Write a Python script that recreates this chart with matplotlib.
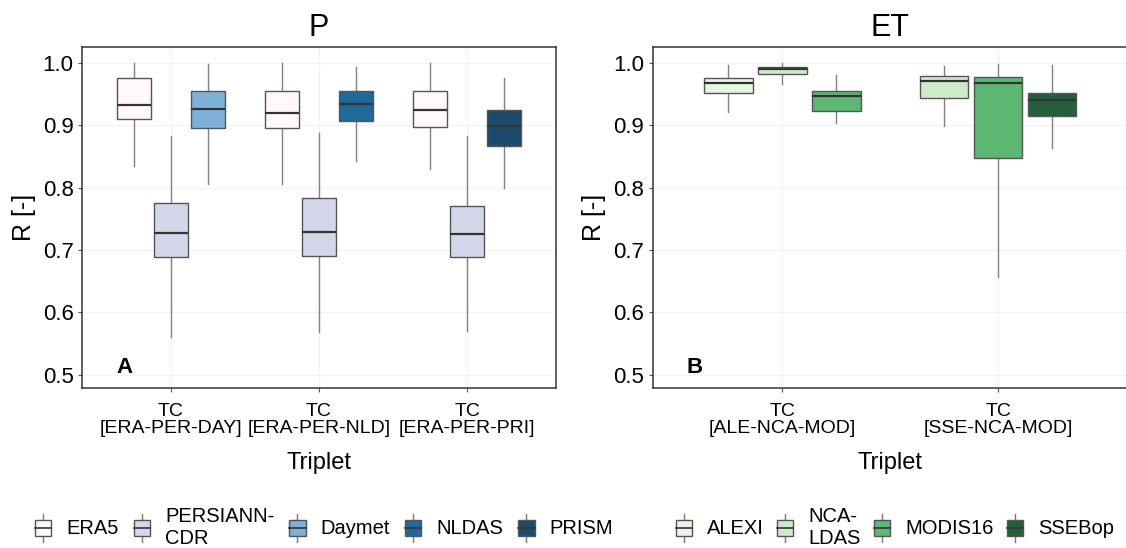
import matplotlib.pyplot as plt
from matplotlib.legend_handler import HandlerBase
from matplotlib.patches import Rectangle, Patch
from matplotlib.lines import Line2D

plt.rcParams['font.family'] = ['Liberation Sans', 'DejaVu Sans']

# ---- data: P panel ----
p_groups = ['TC\n[ERA-PER-DAY]', 'TC\n[ERA-PER-NLD]', 'TC\n[ERA-PER-PRI]']
p_products = ['ERA5', 'PERSIANN-\nCDR', 'Daymet', 'NLDAS', 'PRISM']
p_colors = ['#fff7fb', '#d4d6e9', '#7fb0d6', '#1f6a9a', '#1b4a6b']
p_members = [[0, 1, 2], [0, 1, 3], [0, 1, 4]]
p_whislo = [[0.835, 0.560, 0.806], [0.805, 0.569, 0.843], [0.829, 0.570, 0.800]]
p_q1 = [[0.909, 0.688, 0.896], [0.895, 0.691, 0.907], [0.897, 0.688, 0.867]]
p_med = [[0.932, 0.727, 0.926], [0.920, 0.728, 0.933], [0.924, 0.725, 0.898]]
p_q3 = [[0.975, 0.775, 0.955], [0.955, 0.783, 0.954], [0.955, 0.771, 0.924]]
p_whishi = [[1.000, 0.883, 0.997], [1.000, 0.888, 0.993], [1.000, 0.883, 0.975]]

# ---- data: ET panel ----
et_groups = ['TC\n[ALE-NCA-MOD]', 'TC\n[SSE-NCA-MOD]']
et_products = ['ALEXI', 'NCA-\nLDAS', 'MODIS16', 'SSEBop']
et_colors = ['#e7f5e3', '#cdebc8', '#5cb872', '#245f3b']
et_members = [[0, 1, 2], [1, 2, 3]]
et_whislo = [[0.921, 0.965, 0.903], [0.899, 0.656, 0.863]]
et_q1 = [[0.952, 0.981, 0.922], [0.943, 0.847, 0.915]]
et_med = [[0.968, 0.989, 0.946], [0.971, 0.967, 0.940]]
et_q3 = [[0.976, 0.993, 0.955], [0.978, 0.977, 0.951]]
et_whishi = [[0.996, 1.000, 0.980], [0.994, 0.998, 0.996]]

yticks = [0.5, 0.6, 0.7, 0.8, 0.9, 1.0]


class BoxKey(HandlerBase):
    # legend key drawn like a small boxplot
    def create_artists(self, legend, orig_handle, xdescent, ydescent,
                       width, height, fontsize, trans):
        cx = -xdescent + width / 2
        bw = width * 0.62
        y0 = -ydescent + height * 0.2
        bh = height * 0.6
        box = Rectangle((cx - bw / 2, y0), bw, bh, facecolor=orig_handle.get_facecolor(),
                        edgecolor='#555555', lw=1, transform=trans)
        med = Line2D([cx - bw / 2, cx + bw / 2], [y0 + bh / 2] * 2, color='#333333', lw=1.2,
                     transform=trans)
        w1 = Line2D([cx, cx], [y0 + bh, y0 + bh + height * 0.2], color='#777777', lw=1,
                    transform=trans)
        w2 = Line2D([cx, cx], [y0, y0 - height * 0.2], color='#777777', lw=1,
                    transform=trans)
        return [w1, w2, box, med]


def draw_panel(ax, groups, colors, members, whislo, q1, med, q3, whishi, title, tag):
    for g in range(len(groups)):
        stats = []
        for k in range(3):
            stats.append(dict(whislo=whislo[g][k], q1=q1[g][k], med=med[g][k],
                              q3=q3[g][k], whishi=whishi[g][k]))
        pos = [g + 1 - 0.25, g + 1, g + 1 + 0.25]
        bp = ax.bxp(stats, positions=pos, widths=0.225, patch_artist=True,
                    showfliers=False, showcaps=False, manage_ticks=False,
                    boxprops=dict(edgecolor='#555555', lw=1),
                    medianprops=dict(color='#333333', lw=1.6),
                    whiskerprops=dict(color='#808080', lw=1))
        for patch, m in zip(bp['boxes'], members[g]):
            patch.set_facecolor(colors[m])
        for line in bp['whiskers']:
            line.set_zorder(1)
    ax.set_xlim(0.4, len(groups) + 0.6)
    ax.set_ylim(0.479, 1.025)
    ax.set_yticks(yticks)
    ax.set_yticklabels(['%.1f' % v for v in yticks])
    ax.set_xticks(range(1, len(groups) + 1))
    ax.set_xticklabels(groups, fontsize=14, linespacing=0.95)
    ax.tick_params(axis='y', labelsize=16, length=3, color='#555555', pad=3)
    ax.tick_params(axis='x', length=3, color='#555555', pad=8)
    ax.grid(True, color='#f2f2f2', lw=0.8)
    ax.set_axisbelow(True)
    for s in ax.spines.values():
        s.set_color('#333333')
        s.set_linewidth(1.1)
    ax.set_title(title, fontsize=22, pad=8)
    ax.set_xlabel('Triplet', fontsize=17, labelpad=11)
    ax.set_ylabel('R [-]', fontsize=18, labelpad=5)
    ax.text(0.089, 0.059, tag, transform=ax.transAxes, fontsize=16, fontweight='bold',
            ha='center', va='center')


fig = plt.figure(figsize=(11.26, 5.48), dpi=100)
ax1 = fig.add_axes([82 / 1126, 160 / 548, 474 / 1126, 341 / 548])
ax2 = fig.add_axes([652.7 / 1126, 160 / 548, 475 / 1126, 341 / 548])

draw_panel(ax1, p_groups, p_colors, p_members, p_whislo, p_q1, p_med, p_q3, p_whishi, 'P', 'A')
draw_panel(ax2, et_groups, et_colors, et_members, et_whislo, et_q1, et_med, et_q3, et_whishi, 'ET', 'B')

leg_kw = dict(ncol=5, frameon=False, fontsize=14.5, handlelength=1.3, handleheight=1.7,
              handletextpad=0.5, columnspacing=0.5, labelspacing=0.2, borderpad=0.2)
h1 = [Patch(facecolor=c) for c in p_colors]
fig.legend(h1, p_products, loc='center left', bbox_to_anchor=(16 / 1126, 1 - 527 / 548),
           handler_map={Patch: BoxKey()}, **leg_kw)
h2 = [Patch(facecolor=c) for c in et_colors]
fig.legend(h2, et_products, loc='center left', bbox_to_anchor=(657 / 1126, 1 - 527 / 548),
           handler_map={Patch: BoxKey()}, **dict(leg_kw, ncol=4, columnspacing=0.4))

fig.savefig('out.png', dpi=100)
